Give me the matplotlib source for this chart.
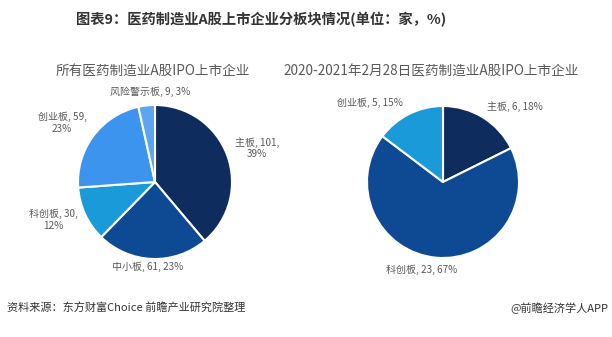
import matplotlib
matplotlib.use("Agg")
import matplotlib.pyplot as plt

plt.rcParams['font.family'] = ['Noto Sans CJK SC', 'DejaVu Sans']

W, H = 612, 337

# Left pie: all pharma-manufacturing A-share IPO companies
left_cats = ["主板", "中小板", "科创板", "创业板", "风险警示板"]
left_vals = [101, 61, 30, 59, 9]
left_pcts = [39, 23, 12, 23, 3]
left_colors = ["#0e2d5e", "#0e4a94", "#1a9ad9", "#3d94ee", "#5aa6f0"]

# Right pie: 2020 - 2021-02-28 listings
right_cats = ["主板", "科创板", "创业板"]
right_vals = [6, 23, 5]
right_pcts = [18, 67, 15]
right_colors = ["#0e2d5e", "#0e4a94", "#1a9ad9"]

title = "图表9：医药制造业A股上市企业分板块情况(单位：家，%)"
left_title = "所有医药制造业A股IPO上市企业"
right_title = "2020-2021年2月28日医药制造业A股IPO上市企业"
source = "资料来源：东方财富Choice 前瞻产业研究院整理"
credit = "@前瞻经济学人APP"

fig = plt.figure(figsize=(W / 100, H / 100), dpi=100)
ax = fig.add_axes([0, 0, 1, 1])
ax.set_axis_off()


def py(y):
    # pixel row (from top) -> data y
    return H - y


wedge_style = dict(edgecolor="white", linewidth=1.5)

ax.pie(left_vals, colors=left_colors, startangle=90, counterclock=False,
       center=(155, py(182)), radius=77, wedgeprops=wedge_style)
ax.pie(right_vals, colors=right_colors, startangle=90, counterclock=False,
       center=(443, py(182)), radius=76, wedgeprops=wedge_style)

ax.set_xlim(0, W)
ax.set_ylim(0, H)
ax.set_aspect("equal")

lab = dict(fontsize=7.2, color="#595959", ha="center", va="center",
           linespacing=1.2)

# left pie labels
left_pos = {
    "主板": (257, 148, True),
    "中小板": (148, 267, False),
    "科创板": (53, 220, True),
    "创业板": (62, 123, True),
    "风险警示板": (150, 92, False),
}
for c, v, p in zip(left_cats, left_vals, left_pcts):
    x, y, wrap = left_pos[c]
    s = f"{c}, {v},\n{p}%" if wrap else f"{c}, {v}, {p}%"
    ax.text(x, py(y), s, **lab)

# right pie labels
right_pos = {
    "主板": (515, 107),
    "科创板": (422, 270),
    "创业板": (370, 103),
}
for c, v, p in zip(right_cats, right_vals, right_pcts):
    x, y = right_pos[c]
    ax.text(x, py(y), f"{c}, {v}, {p}%", **lab)

ax.text(261, py(20), title, fontsize=10.3, fontweight="bold", color="#333333",
        ha="center", va="center")
ax.text(153, py(71), left_title, fontsize=9.8, color="#595959",
        ha="center", va="center")
ax.text(431, py(71), right_title, fontsize=9.8, color="#595959",
        ha="center", va="center")

ax.text(7, py(308), source, fontsize=8, color="#333333", ha="left", va="center")
ax.text(608, py(308), credit, fontsize=8, color="#333333", ha="right", va="center")

fig.savefig("out.png", dpi=100)
